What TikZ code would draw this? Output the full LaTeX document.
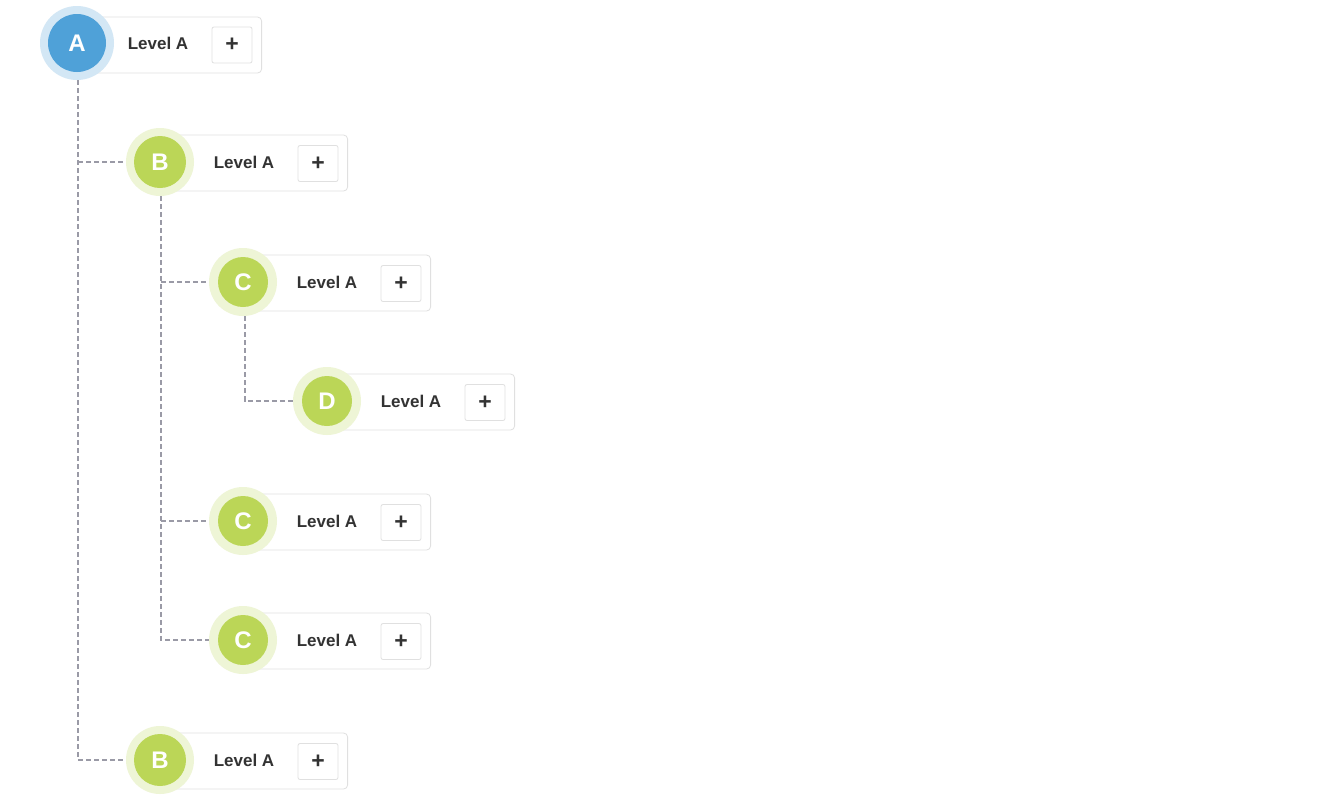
\documentclass[tikz,border=0pt]{standalone}
\usepackage{fontspec}
\setmainfont{Liberation Sans}
\definecolor{blueC}{HTML}{4FA1D8}
\definecolor{blueH}{HTML}{D3E7F5}
\definecolor{greenC}{HTML}{BBD657}
\definecolor{greenH}{HTML}{EEF5D6}
\definecolor{boxB}{HTML}{E0E0E0}
\definecolor{txt}{HTML}{333333}
\definecolor{conn}{HTML}{9A9AA6}
\tikzset{
  cardbox/.style={draw=boxB, line width=0.8pt, rounded corners=4pt, fill=white, minimum height=56pt, inner sep=0pt, anchor=east},
  lbl/.style={font=\bfseries\fontsize{17}{19}\selectfont, text=txt, inner sep=0pt},
  plusbtn/.style={draw=boxB, line width=0.8pt, rounded corners=2pt, fill=white, minimum width=40pt, minimum height=36pt, inner sep=0pt, font=\bfseries\fontsize{23}{25}\selectfont, text=txt},
  halo/.style={circle, inner sep=0pt},
  disc/.style={circle, inner sep=0pt, text=white, font=\bfseries\fontsize{24}{26}\selectfont},
  connline/.style={draw=conn, line width=1.4pt, dash pattern=on 5pt off 3pt},
}
\newcommand\plusglyph{\raisebox{-2.5pt}{+}}
% name, letter, x, y, inner colour, halo colour, box width, inner radius, halo radius
\newcommand\mkcard[9]{%
  \node[cardbox, minimum width=#7pt] (#1-box) at (#3+#7, #4+1) {};
  \node[lbl] (#1-lbl) at (#3+84, #4) {Level A};
  \node[plusbtn] (#1-plus) at (#3+158, #4+1.5) {\plusglyph};
  \node[halo, fill=#6, minimum size=2*#9 pt] (#1) at (#3,#4) {};
  \node[disc, fill=#5, minimum size=2*#8 pt] (#1-c) at (#3,#4) {#2};
}
\begin{document}
\begin{tikzpicture}[x=1pt,y=-1pt]
\useasboundingbox[fill=white] (0,0) rectangle (1341,796);
% root A
\node[cardbox, minimum width=185pt] (A-box) at (262,45) {};
\node[lbl] (A-lbl) at (158,43) {Level A};
\node[plusbtn] (A-plus) at (232,45) {\plusglyph};
\node[halo, fill=blueH, minimum size=74pt] (A) at (77,43) {};
\node[disc, fill=blueC, minimum size=58pt] (A-c) at (77,43) {A};
% children
\mkcard{B1}{B}{160}{162}{greenC}{greenH}{188}{26}{34}
\mkcard{C1}{C}{243}{282}{greenC}{greenH}{188}{25}{34}
\mkcard{D1}{D}{327}{401}{greenC}{greenH}{188}{25}{34}
\mkcard{C2}{C}{243}{521}{greenC}{greenH}{188}{25}{34}
\mkcard{C3}{C}{243}{640}{greenC}{greenH}{188}{25}{34}
\mkcard{B2}{B}{160}{760}{greenC}{greenH}{188}{26}{34}
% connectors
\draw[connline] ([xshift=1pt]A.south) |- (B2.west);
\draw[connline] ([xshift=1pt]A.south |- B1.west) -- (B1.west);
\draw[connline] ([xshift=1pt]B1.south) |- (C3.west);
\draw[connline] ([xshift=1pt]B1.south |- C1.west) -- (C1.west);
\draw[connline] ([xshift=1pt]B1.south |- C2.west) -- (C2.west);
\draw[connline] ([xshift=2pt]C1.south) |- (D1.west);
\end{tikzpicture}
\end{document}
